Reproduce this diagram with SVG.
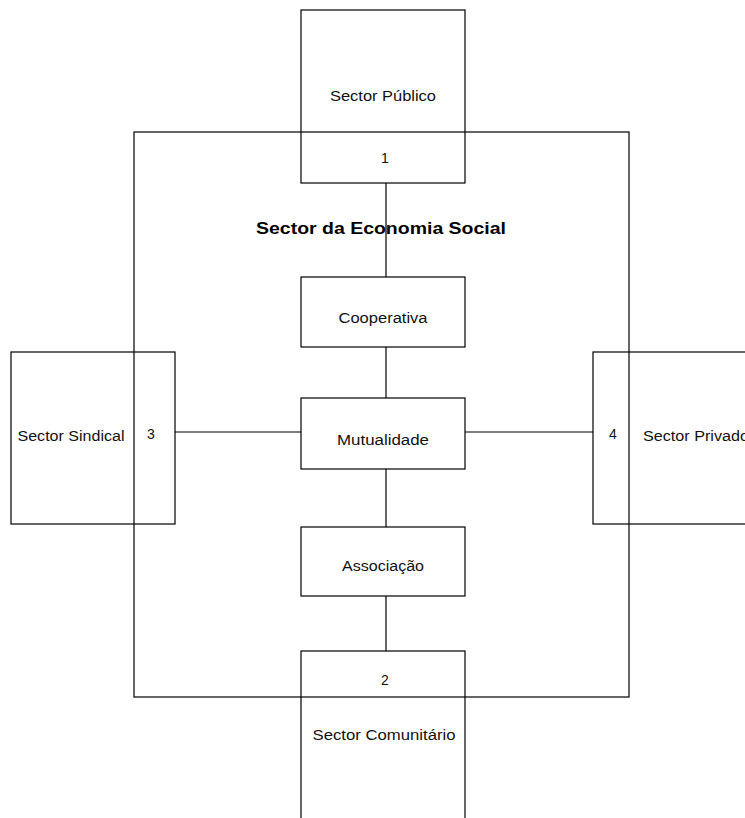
<svg xmlns="http://www.w3.org/2000/svg" width="745" height="818" viewBox="0 0 745 818">
  <style>
    .box { fill: none; stroke: #000; stroke-width: 1.2; }
    .wire { stroke: #000; stroke-width: 1.2; fill: none; }
    .lbl { font-family: "Liberation Sans", Arial, sans-serif; font-size: 14px; fill: #111; text-anchor: middle; dominant-baseline: central; }
    .title { font-family: "Liberation Sans", Arial, sans-serif; font-size: 17px; font-weight: bold; fill: #000; text-anchor: middle; dominant-baseline: central; }
  </style>
  <rect width="745" height="818" fill="#fff"/>

  <!-- social economy frame -->
  <g id="economia-social">
    <rect class="box" x="134" y="132" width="495" height="565"/>
    <text class="title" x="381" y="228" textLength="250" lengthAdjust="spacingAndGlyphs">Sector da Economia Social</text>
  </g>

  <!-- connectors -->
  <g id="connectors">
    <line class="wire" x1="386" y1="183" x2="386" y2="277"/>
    <line class="wire" x1="386" y1="347" x2="386" y2="398"/>
    <line class="wire" x1="386" y1="469" x2="386" y2="527"/>
    <line class="wire" x1="386" y1="596" x2="386" y2="651"/>
    <line class="wire" x1="175" y1="432" x2="301" y2="432"/>
    <line class="wire" x1="465" y1="432" x2="593" y2="432"/>
  </g>

  <g id="sector-publico">
    <rect class="box" x="301" y="10" width="164" height="173"/>
    <text class="lbl" x="383" y="96" textLength="106" lengthAdjust="spacingAndGlyphs">Sector Público</text>
    <text class="lbl" x="385" y="158">1</text>
  </g>

  <g id="sector-sindical">
    <rect class="box" x="11" y="352" width="164" height="172"/>
    <text class="lbl" x="71" y="436" textLength="107" lengthAdjust="spacingAndGlyphs">Sector Sindical</text>
    <text class="lbl" x="151" y="434">3</text>
  </g>

  <g id="sector-privado">
    <rect class="box" x="593" y="352" width="170" height="172"/>
    <text class="lbl" x="613" y="434">4</text>
    <text class="lbl" x="643" y="436" style="text-anchor:start" textLength="106" lengthAdjust="spacingAndGlyphs">Sector Privado</text>
  </g>

  <g id="sector-comunitario">
    <rect class="box" x="301" y="651" width="164" height="180"/>
    <text class="lbl" x="385" y="680">2</text>
    <text class="lbl" x="384" y="735" textLength="143" lengthAdjust="spacingAndGlyphs">Sector Comunitário</text>
  </g>

  <g id="cooperativa">
    <rect class="box" x="301" y="277" width="164" height="70"/>
    <text class="lbl" x="383" y="318" textLength="89" lengthAdjust="spacingAndGlyphs">Cooperativa</text>
  </g>

  <g id="mutualidade">
    <rect class="box" x="301" y="398" width="164" height="71"/>
    <text class="lbl" x="383" y="440" textLength="92" lengthAdjust="spacingAndGlyphs">Mutualidade</text>
  </g>

  <g id="associacao">
    <rect class="box" x="301" y="527" width="164" height="69"/>
    <text class="lbl" x="383" y="566" textLength="82" lengthAdjust="spacingAndGlyphs">Associação</text>
  </g>
</svg>
